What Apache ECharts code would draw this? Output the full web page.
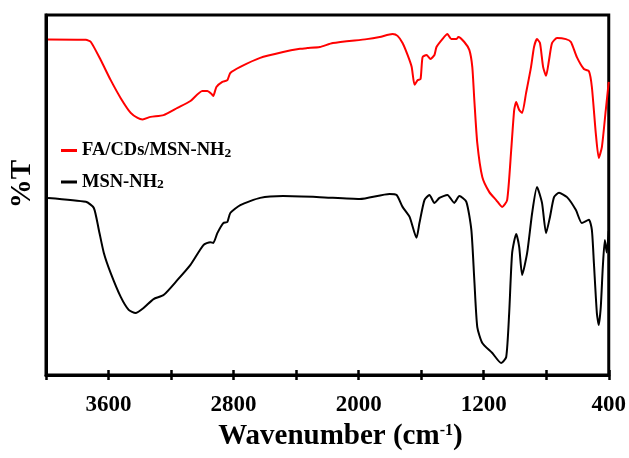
<!DOCTYPE html>
<html>
<head>
<meta charset="utf-8">
<script src="https://cdn.jsdelivr.net/npm/echarts@6/dist/echarts.min.js"></script>
<style>
  html, body { margin: 0; padding: 0; background: #fff; }
  #chart { width: 629px; height: 458px; }
</style>
</head>
<body>
<div id="chart"></div>
<script>
// wavenumber (cm-1) and transmittance (arbitrary, offset)
const faWn = [3987, 3745, 3713, 3650, 3586, 3522, 3458, 3414, 3382, 3331, 3248, 3159, 3076, 3000, 2968, 2942, 2930, 2910, 2872, 2840, 2821, 2757, 2630, 2483, 2375, 2331, 2248, 2165, 1948, 1865, 1783, 1751, 1719, 1687, 1661, 1642, 1623, 1604, 1591, 1566, 1540, 1515, 1502, 1464, 1432, 1407, 1375, 1362, 1324, 1292, 1273, 1260, 1241, 1209, 1164, 1120, 1082, 1050, 1024, 1005, 992, 973, 954, 929, 897, 878, 859, 840, 820, 801, 782, 763, 731, 674, 642, 604, 559, 527, 508, 483, 464, 444, 419, 400]
const faT = [93.2, 93.1, 92.5, 87.5, 81.9, 76.9, 72.8, 71.4, 71.0, 71.7, 72.2, 74.2, 76.1, 78.9, 78.9, 78.1, 77.5, 80.0, 81.4, 81.9, 83.9, 85.6, 88.1, 89.7, 90.6, 90.8, 91.1, 92.2, 93.3, 93.9, 94.7, 94.2, 92.2, 88.9, 85.6, 80.6, 81.9, 82.2, 88.3, 88.9, 87.8, 88.9, 91.1, 93.3, 94.7, 93.3, 93.3, 93.9, 92.5, 90.3, 85.6, 76.4, 64.4, 55.0, 50.8, 48.6, 46.7, 48.6, 62.5, 73.6, 75.8, 73.6, 72.8, 78.3, 85.6, 91.1, 93.3, 92.2, 85.6, 83.1, 87.5, 92.2, 93.6, 93.3, 92.5, 88.3, 85.0, 84.4, 80.0, 67.2, 60.3, 63.3, 73.6, 81.4]

const msnWn = [3987, 3745, 3694, 3662, 3630, 3586, 3522, 3471, 3427, 3376, 3312, 3248, 3159, 3076, 2993, 2949, 2930, 2904, 2866, 2840, 2821, 2757, 2630, 2483, 2248, 1993, 1802, 1757, 1719, 1674, 1630, 1611, 1579, 1547, 1515, 1483, 1432, 1388, 1356, 1311, 1279, 1260, 1241, 1209, 1145, 1088, 1056, 1037, 1018, 992, 973, 954, 922, 890, 859, 827, 801, 776, 750, 718, 667, 610, 572, 527, 508, 495, 476, 464, 451, 438, 425, 413, 400]
const msnT = [49.2, 48.1, 46.4, 40.3, 33.9, 28.3, 21.7, 18.1, 17.2, 18.6, 21.1, 22.2, 26.4, 30.6, 36.1, 36.9, 36.7, 39.4, 42.2, 42.5, 45.0, 47.2, 49.2, 49.7, 49.4, 48.9, 50.3, 50.0, 46.7, 43.9, 38.1, 42.2, 48.6, 50.0, 47.8, 49.2, 50.0, 47.8, 49.7, 48.1, 40.3, 26.4, 13.3, 8.9, 6.1, 3.3, 5.0, 17.2, 33.9, 39.2, 35.6, 27.8, 33.9, 45.0, 52.2, 47.8, 39.4, 43.9, 49.4, 50.6, 49.4, 45.8, 42.2, 43.1, 40.3, 31.1, 17.2, 13.9, 18.9, 30.0, 37.5, 34.0, 40.0]

const seriesNames = ['FA/CDs/MSN-NH2', 'MSN-NH2']
const xTicks = { min: 400, max: 4000, step: 400 }

const font = 'Liberation Serif'
const pairs = (xs, ys) => xs.map((x, i) => [x, ys[i]])

const chart = echarts.init(document.getElementById('chart'))

const option = {
    backgroundColor: '#fff',
    animation: false,
    grid: {
        left: 45,
        right: 20,
        top: 15,
        bottom: 83,
        show: true,
        borderColor: '#000',
        borderWidth: 3
    },
    legend: {
        data: seriesNames,
        orient: 'vertical',
        left: 56,
        top: 136,
        itemGap: 12,
        itemWidth: 16,
        itemHeight: 3,
        icon: 'rect',
        selectedMode: false,
        formatter: function (name) {
            return name.replace(/2$/, '{s|2}')
        },
        textStyle: {
            fontFamily: font,
            fontWeight: 'bold',
            fontSize: 18.5,
            color: '#000',
            rich: {
                s: { fontFamily: font, fontWeight: 'bold', fontSize: 13.5, color: '#000', padding: [6, 0, 0, 0] }
            }
        }
    },
    xAxis: [
        {
            type: 'value',
            position: 'bottom',
            inverse: true,
            min: xTicks.min,
            max: xTicks.max,
            interval: xTicks.step,
            name: '{a|Wavenumber (cm}{b|-1}{a|)}',
            nameLocation: 'middle',
            nameGap: 46,
            nameTextStyle: {
                padding: [0, 0, 0, 26],
                rich: {
                    a: { fontFamily: font, fontWeight: 'bold', fontSize: 29, color: '#000' },
                    b: { fontFamily: font, fontWeight: 'bold', fontSize: 16, color: '#000', padding: [0, 0, 12, 0] }
                }
            },
            axisLine: { lineStyle: { color: '#000', width: 3 } },
            axisTick: { inside: false, length: 5, lineStyle: { color: '#000', width: 2.5 } },
            axisLabel: {
                margin: 19,
                fontFamily: font,
                fontWeight: 'bold',
                fontSize: 23,
                color: '#000',
                formatter: function (v) {
                    return v % 800 === 400 ? String(v) : ''
                }
            },
            splitLine: { show: false }
        },
        {
            type: 'value',
            position: 'bottom',
            inverse: true,
            min: xTicks.min,
            max: xTicks.max,
            interval: xTicks.step,
            axisLine: { show: false },
            axisTick: { inside: true, length: 5, lineStyle: { color: '#000', width: 2.5 } },
            axisLabel: { show: false },
            splitLine: { show: false }
        }
    ],
    yAxis: {
        type: 'value',
        min: 0,
        max: 100,
        name: '%T',
        nameLocation: 'middle',
        nameGap: 9,
        nameRotate: 90,
        nameTextStyle: {
            fontFamily: font,
            fontWeight: 'bold',
            fontSize: 29,
            color: '#000',
            padding: [0, 0, 0, 22]
        },
        axisLine: { show: true, lineStyle: { color: '#000', width: 3 } },
        axisTick: { show: false },
        axisLabel: { show: false },
        splitLine: { show: false }
    },
    series: [
        {
            name: seriesNames[0],
            type: 'line',
            showSymbol: false,
            smooth: 0.2,
            color: '#ff0000',
            lineStyle: { color: '#ff0000', width: 2 },
            data: pairs(faWn, faT)
        },
        {
            name: seriesNames[1],
            type: 'line',
            showSymbol: false,
            smooth: 0.2,
            color: '#000',
            lineStyle: { color: '#000', width: 2 },
            data: pairs(msnWn, msnT)
        }
    ]
}

chart.setOption(option)
</script>
</body>
</html>
